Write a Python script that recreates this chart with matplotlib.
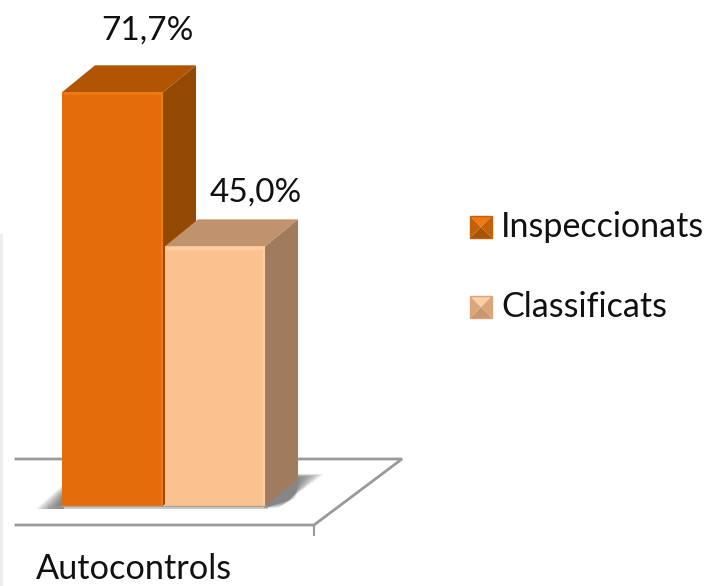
import matplotlib

matplotlib.use("Agg")
import matplotlib.pyplot as plt
from matplotlib.patches import Polygon, Rectangle

series = ["Inspeccionats", "Classificats"]
values = [71.7, 45.0]
value_labels = ["71,7%", "45,0%"]
category = "Autocontrols"

front_colors = ["#E56C0A", "#FBC28F"]
top_colors = ["#AF5504", "#BF936D"]
side_colors = ["#944903", "#A07B5D"]
edge_colors = ["#F07A12", "#FFCFA3"]
dark_corner = ["#C46008", "#D9A67A"]

plt.rcParams["font.family"] = ["Lato", "DejaVu Sans"]

W, H = 710, 586
PX = 5.77  # pixels per percent
BASE = 506

fig = plt.figure(figsize=(W / 100, H / 100), dpi=100)
ax = fig.add_axes([0, 0, 1, 1])
ax.set_xlim(0, W)
ax.set_ylim((BASE - H) / PX, BASE / PX)
ax.axis("off")


def yv(py):
    # image row to value axis
    return (BASE - py) / PX


grey = "#9A9A9A"
# floor
ax.plot([16, 402, 314, 16], [yv(459), yv(459), yv(525), yv(525)], color=grey, lw=2, zorder=1, solid_joinstyle="miter")
ax.plot([314, 314], [yv(525), yv(535)], color=grey, lw=1.5, zorder=1)
ax.plot([1, 1], [yv(235), yv(586)], color="#EDEDED", lw=2, zorder=1)

# soft shadow on the floor, stacked so it fades outward
steps = 14
for i in range(steps):
    ax.add_patch(Polygon(
        [(36 + i * 1.6, yv(509)), (64, yv(484 + i * 0.9)), (64, yv(509))],
        closed=True, facecolor="#555555", edgecolor="none", alpha=0.08, zorder=2))
    ax.add_patch(Polygon(
        [(264, yv(508)), (264, yv(474)), (324 - i * 2.0, yv(474 + i * 0.3)), (278 + i * 1.4, yv(508 - i * 0.8))],
        closed=True, facecolor="#555555", edgecolor="none", alpha=0.08, zorder=2))
ax.add_patch(Rectangle((48, yv(509)), 220, 3 / PX, facecolor="#9A9A9A", edgecolor="none", alpha=0.5, zorder=2))

# bars
left = [62, 165]
width = [101, 100]
dx, dy = 33, 27 / PX
label_y = [yv(31), yv(193)]
label_x = [147, 256]
for i in [0, 1]:
    x0 = left[i]
    x1 = x0 + width[i]
    v = values[i]
    ax.add_patch(Polygon([(x1, 0), (x1 + dx, dy), (x1 + dx, v + dy), (x1, v)], closed=True,
                         facecolor=side_colors[i], edgecolor="none", zorder=3 + i))
    ax.add_patch(Polygon([(x0, v), (x0 + dx, v + dy), (x1 + dx, v + dy), (x1, v)], closed=True,
                         facecolor=top_colors[i], edgecolor="none", zorder=3 + i))
    ax.bar(x0, v, width=width[i], align="edge", color=front_colors[i], edgecolor="none", zorder=3 + i)
    # bevel edges
    ax.plot([x0 + 1, x1 - 1], [v - 0.2, v - 0.2], color=edge_colors[i], lw=2, zorder=3.5 + i, solid_capstyle="butt")
    ax.plot([x1 - 1, x1 - 1], [0, v], color=edge_colors[i], lw=1.5, zorder=3.5 + i, solid_capstyle="butt")
    ax.text(label_x[i], label_y[i], value_labels[i], fontsize=24, color="#111111", ha="center", va="center", zorder=6)

ax.plot([62, 265], [0, 0], color="#B0A090", lw=1, zorder=5)

ax.text(36, yv(569), category, fontsize=24.7, color="#111111", ha="left", va="center", zorder=6)

# legend with pyramid style keys
key_rows = [216, 296]
for i, name in enumerate(series):
    t = key_rows[i]
    b = t + 22
    l, r = 470, 492
    cx, cy = (l + r) / 2, (t + b) / 2
    shades = [edge_colors[i], dark_corner[i], "#A85204" if i == 0 else "#C9986F", dark_corner[i]]
    corners = [[(l, t), (r, t)], [(r, t), (r, b)], [(r, b), (l, b)], [(l, b), (l, t)]]
    for c, s in zip(corners, shades):
        ax.add_patch(Polygon([(c[0][0], yv(c[0][1])), (c[1][0], yv(c[1][1])), (cx, yv(cy))], closed=True,
                             facecolor=s, edgecolor="none", zorder=3))
    ax.add_patch(Rectangle((l, yv(b)), r - l, yv(t) - yv(b), fill=False, edgecolor=dark_corner[i], lw=1, zorder=4))
    ax.text(501, yv(t + 11), name, fontsize=24.5, color="#111111", ha="left", va="center", zorder=6)

fig.savefig("out.png", dpi=100, facecolor="white")
